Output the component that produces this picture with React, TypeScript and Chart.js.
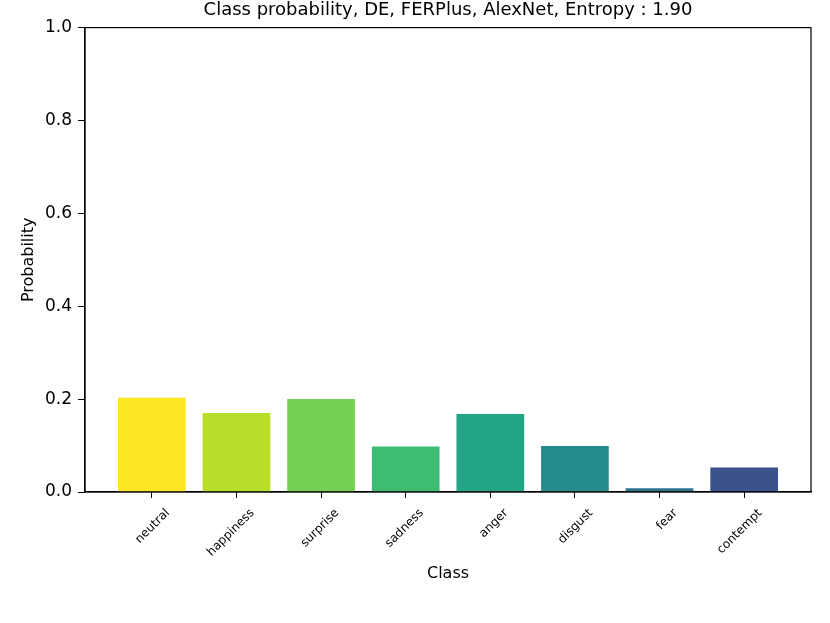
import React, { useEffect, useRef } from "react";
import { Chart, registerables } from "chart.js";

Chart.register(...registerables);

const categories = ["neutral", "happiness", "surprise", "sadness", "anger", "disgust", "fear", "contempt"];
const probabilities = [0.203, 0.17, 0.2, 0.098, 0.168, 0.099, 0.008, 0.053];
const barColors = ["#fde725", "#b8de29", "#75d054", "#3dbc74", "#21a585", "#238a8d", "#2c718e", "#3b528b"];
const yTicks = [0, 0.2, 0.4, 0.6, 0.8, 1.0];
const titleText = "Class probability, DE, FERPlus, AlexNet, Entropy : 1.90";

const FONT = "'DejaVu Sans', sans-serif";

const framePlugin = {
  id: "frame",
  afterDraw(chart: any) {
    const { ctx, chartArea } = chart;
    ctx.save();
    ctx.strokeStyle = "#000";
    ctx.lineWidth = 1.2;
    ctx.strokeRect(chartArea.left, chartArea.top, chartArea.right - chartArea.left, chartArea.bottom - chartArea.top);
    ctx.restore();
  },
};

export default function App() {
  const ref = useRef<HTMLCanvasElement | null>(null);

  useEffect(() => {
    document.body.style.margin = "0";
    const canvas = ref.current;
    if (!canvas) return;
    const chart = new Chart(canvas, {
      type: "bar",
      data: {
        datasets: [
          {
            data: categories.map((_, i) => ({ x: i, y: probabilities[i] })),
            backgroundColor: barColors,
            borderWidth: 0,
            barPercentage: 0.8,
            categoryPercentage: 1.0,
          },
        ],
      },
      options: {
        animation: false,
        responsive: false,
        devicePixelRatio: 1,
        layout: { padding: { top: 0, right: 19, bottom: 40, left: 0 } },
        plugins: {
          legend: { display: false },
          tooltip: { enabled: false },
          title: {
            display: true,
            fullSize: false,
            text: titleText,
            color: "#000",
            font: { family: FONT, size: 18, weight: "normal" },
            padding: { top: 0, bottom: 6 },
          },
        },
        scales: {
          x: {
            type: "linear",
            min: -0.79,
            max: 7.79,
            offset: false,
            afterBuildTicks: (scale: any) => {
              scale.ticks = categories.map((_, i) => ({ value: i }));
            },
            afterFit: (scale: any) => {
              scale.height = 91;
            },
            ticks: {
              autoSkip: false,
              minRotation: 45,
              maxRotation: 45,
              color: "#000",
              font: { family: FONT, size: 12 },
              padding: 8,
              labelOffset: 16,
              callback: (v: any) => categories[Math.round(Number(v))] ?? "",
            },
            grid: { display: true, offset: false, drawOnChartArea: false, drawTicks: true, tickLength: 6, color: "#000", lineWidth: 1 },
            border: { display: true, color: "#000", width: 1.2 },
            title: {
              display: true,
              text: "Class",
              color: "#000",
              font: { family: FONT, size: 16 },
              padding: { top: 4, bottom: 0 },
            },
          },
          y: {
            type: "linear",
            min: 0,
            max: 1,
            afterBuildTicks: (scale: any) => {
              scale.ticks = yTicks.map((v) => ({ value: v }));
            },
            afterFit: (scale: any) => {
              scale.width = 85;
            },
            ticks: {
              color: "#000",
              font: { family: FONT, size: 17 },
              padding: 6,
              callback: (v: any) => Number(v).toFixed(1),
            },
            grid: { display: true, drawOnChartArea: false, drawTicks: true, tickLength: 7, color: "#000", lineWidth: 1 },
            border: { display: true, color: "#000", width: 1.2 },
            title: {
              display: true,
              text: "Probability",
              color: "#000",
              font: { family: FONT, size: 16 },
              padding: { top: 19, bottom: 0 },
            },
          },
        },
      },
      plugins: [framePlugin],
    });
    return () => chart.destroy();
  }, []);

  return (
    <div style={{ width: 830, height: 623, background: "#fff" }}>
      <canvas ref={ref} width={830} height={623} style={{ display: "block" }} />
    </div>
  );
}
